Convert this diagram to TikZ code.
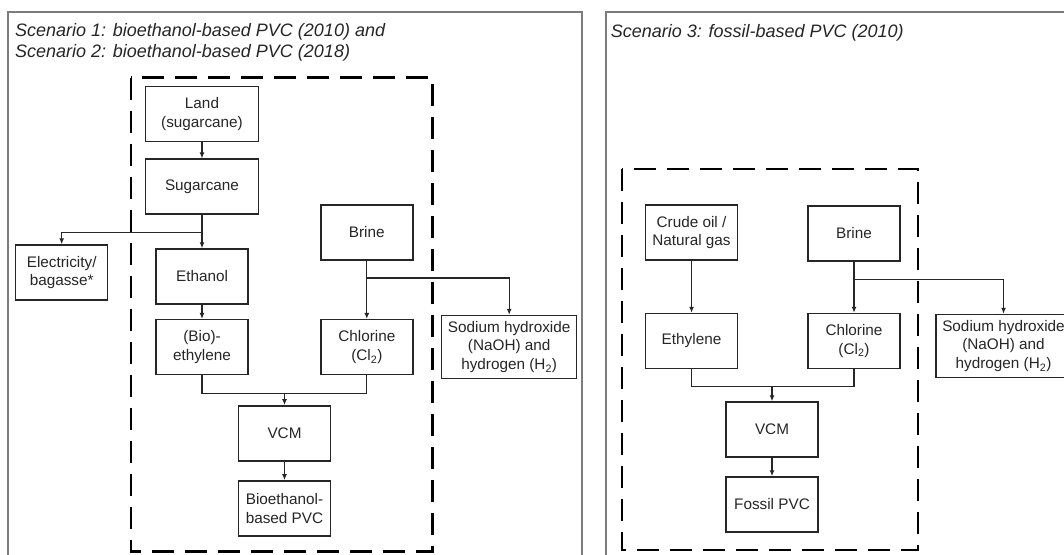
\documentclass[tikz,border=0pt]{standalone}
\usepackage{fontspec}
\setmainfont{Liberation Sans}
\usetikzlibrary{arrows.meta}
\definecolor{ink}{HTML}{262626}
\definecolor{framegray}{HTML}{7C7C7C}
\begin{document}
\begin{tikzpicture}[x=1pt,y=-1pt,
  box/.style={draw=ink, line width=1.5pt, fill=white, text=ink,
    minimum width=92pt, minimum height=55pt, inner sep=2pt, align=center,
    font=\fontsize{15.3}{18.8}\selectfont},
  widebox/.style={box, minimum width=113pt},
  outbox/.style={box, minimum width=135pt, minimum height=63pt},
  link/.style={draw=ink, line width=1.3pt},
  flow/.style={link, -{Latex[length=6pt,width=5pt]}},
  panel/.style={draw=framegray, line width=1.6pt},
  boundary/.style={draw=black, line width=2.7pt, dash pattern=on 22pt off 11pt},
  heading/.style={font=\fontsize{18}{21}\selectfont\itshape, text=ink,
    align=left, inner sep=0pt, anchor=west}
]
\useasboundingbox (0,0) rectangle (1064,554);
\clip (0,0) rectangle (1064,554);
\fill[white] (0,0) rectangle (1064,554);

% ---------- panel frames ----------
\draw[panel] (8,11.7) rectangle (582,620);
\draw[panel] (605.7,11.7) rectangle (1120,620);

% ---------- scenarios 1 and 2 ----------
\node[heading] (t1) at (15,42.5) {Scenario 1: bioethanol-based PVC (2010) and\\Scenario 2: bioethanol-based PVC (2018)};
\draw[boundary] (131,77.7) rectangle (432.7,551.7);

\node[widebox] (land)   at (202,114)    {Land\\(sugarcane)};
\node[widebox] (sugar)  at (202,186.7)  {Sugarcane};
\node[box]     (elec)   at (61.7,272.5) {Electricity/\\bagasse*};
\node[box]     (eth)    at (202,276.5)  {Ethanol};
\node[box]     (bioeth) at (202,347.2)  {(Bio)-\\ethylene};
\node[box]     (brine)  at (366.8,232.5){Brine};
\node[box]     (chl)    at (366.8,347.2){Chlorine\\(Cl\textsubscript{2})};
\node[outbox]  (naoh)   at (509.2,347)  {Sodium hydroxide\\(NaOH) and\\hydrogen (H\textsubscript{2})};
\node[box]     (vcm)    at (284.5,433.3){VCM};
\node[box]     (pvc)    at (284.5,508.3){Bioethanol-\\based PVC};

\draw[flow] (land) -- (sugar);
\path (sugar.south) ++(0,17.7) coordinate (sj);
\draw[link] (sugar.south) -- (sj);
\draw[flow] (sj) -| (elec.north);
\draw[flow] (sj) -- (eth.north);
\draw[flow] (eth) -- (bioeth);

\path (brine.south) ++(0,17.3) coordinate (bj);
\draw[link] (brine.south) -- (bj);
\draw[flow] (bj) -- (chl.north);
\draw[flow] (bj) -| (naoh.north);

\path (bioeth.south) ++(0,18) coordinate (mj);
\draw[link] (bioeth.south) -- (mj) -| (chl.south);
\draw[flow] (mj -| vcm.north) -- (vcm.north);
\draw[flow] (vcm) -- (pvc);

% ---------- scenario 3 ----------
\node[heading] (t3) at (610.7,33) {Scenario 3: fossil-based PVC (2010)};
\draw[boundary] (622,169) rectangle (918,550);

\node[box]    (crude)  at (691.5,232.5) {Crude oil /\\Natural gas};
\node[box]    (brineb) at (854,233.5)   {Brine};
\node[box]    (ethy)   at (691.5,341)   {Ethylene};
\node[box]    (chlb)   at (854,341)     {Chlorine\\(Cl\textsubscript{2})};
\node[outbox] (naohb)  at (1003.5,346)  {Sodium hydroxide\\(NaOH) and\\hydrogen (H\textsubscript{2})};
\node[box]    (vcmb)   at (772,429.5)   {VCM};
\node[box]    (fpvc)   at (772,504.5)   {Fossil PVC};

\draw[flow] (crude) -- (ethy);
\path (brineb.south) ++(0,18) coordinate (bjb);
\draw[link] (brineb.south) -- (bjb);
\draw[flow] (bjb) -- (chlb.north);
\draw[flow] (bjb) -| (naohb.north);

\path (ethy.south) ++(0,17) coordinate (mjb);
\draw[link] (ethy.south) -- (mjb) -| (chlb.south);
\draw[flow] (mjb -| vcmb.north) -- (vcmb.north);
\draw[flow] (vcmb) -- (fpvc);
\end{tikzpicture}
\end{document}
